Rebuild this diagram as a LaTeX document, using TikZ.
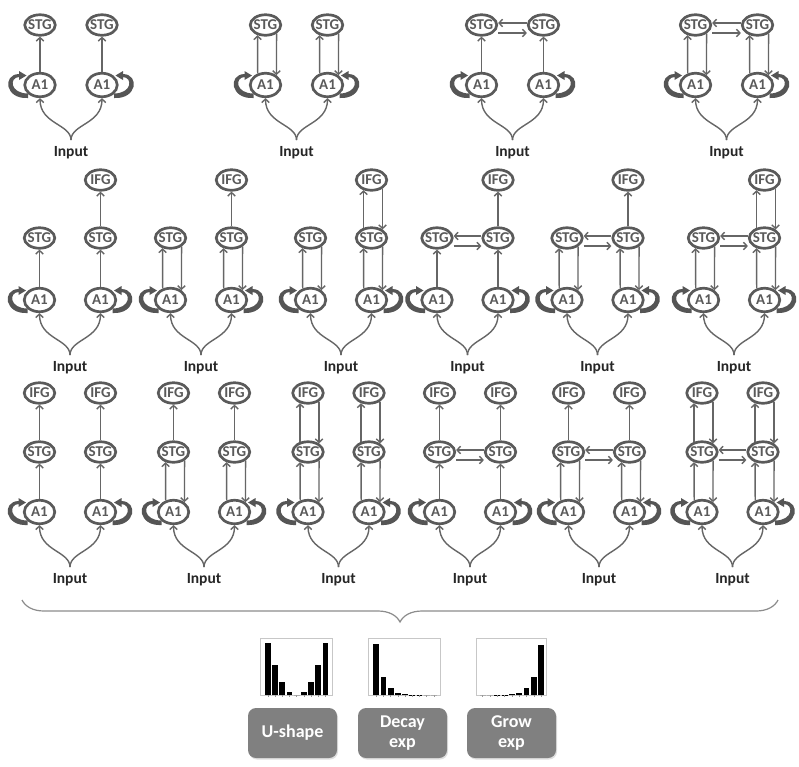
\documentclass[tikz,border=0pt]{standalone}
\usepackage{fontspec}
\setmainfont{Carlito}
\usetikzlibrary{shapes.geometric,arrows.meta,decorations.pathreplacing,shadows}
\definecolor{ng}{HTML}{5A5A5A}
\definecolor{ag}{HTML}{666666}
\definecolor{lg}{HTML}{555555}
\definecolor{bg}{HTML}{808080}
\newcommand\ndlab[1]{\makebox[18pt]{#1}}
\tikzset{
  nd/.style={ellipse, draw=ng, line width=2.7pt, minimum width=30.5pt, minimum height=20.5pt,
    inner sep=0pt, text=ng, font=\fontsize{15}{15}\selectfont\bfseries},
  aone/.style={minimum height=23.5pt},
  inp/.style={inner sep=1pt, text=black!85, font=\fontsize{15.5}{15.5}\selectfont\bfseries},
  con/.style={draw=ag, line width=1.4pt, -{Straight Barb[length=3.5pt,width=7.5pt]}},
  frame/.style={draw=black!22, line width=0.6pt},
  tick/.style={draw=black!40, line width=0.5pt},
  btn/.style={rounded corners=8pt, fill=bg, text=white, minimum width=89pt, minimum height=50pt,
    inner sep=0pt, align=center, font=\fontsize{18}{20}\selectfont\bfseries,
    drop shadow={opacity=0.25, shadow xshift=1pt, shadow yshift=-1.5pt}},
  bracestyle/.style={draw=black!45, line width=1.2pt, decorate,
    decoration={brace, mirror, amplitude=22pt}}
}
\newcommand\selfloop[2]{%
  \begin{scope}[shift={(#1.center)}, xscale=#2]
    \fill[lg] (-12,8.5) -- (-12,13) .. controls (-35,14.5) and (-38,-10.5) .. (-21,-11)
      -- (-21,-14) -- (-13.5,-9.5) -- (-21,-5) -- (-21,-8)
      .. controls (-31,-7.5) and (-30,8.5) .. (-12,8.5) -- cycle;
  \end{scope}}
% #1 name, #2 cx, #3 A-S (1 single, 2 bi), #4 S-S (0/1), #5 S-I (0/1/2), #6 IFG (0 none, 1 right, 2 both)
\newcommand\mkpanel[6]{%
  \node[nd,aone] (#1AL) at ({#2-\hw},\yA) {\ndlab{A1}};
  \node[nd,aone] (#1AR) at ({#2+\hw},\yA) {\ndlab{A1}};
  \node[nd] (#1SL) at ({#2-\hw},\yS) {\ndlab{STG}};
  \node[nd] (#1SR) at ({#2+\hw},\yS) {\ndlab{STG}};
  \ifnum#6>0 \node[nd] (#1IR) at ({#2+\hw},\yI) {\ndlab{IFG}};\fi
  \ifnum#6>1 \node[nd] (#1IL) at ({#2-\hw},\yI) {\ndlab{IFG}};\fi
  \node[inp] (#1in) at (#2,\yIn) {Input};
  \coordinate (#1m) at ([yshift=5pt]#1in.north);
  \draw[con] (#1m) .. controls +(0,-16) and +(0,26) .. (#1AL.south);
  \draw[con] (#1m) .. controls +(0,-16) and +(0,26) .. (#1AR.south);
  \selfloop{#1AL}{1}
  \selfloop{#1AR}{-1}
  \ifnum#3=1
    \draw[con] (#1AL) -- (#1SL);
    \draw[con] (#1AR) -- (#1SR);
  \else
    \draw[con] (#1AL.124) -- (#1SL.-128);
    \draw[con] (#1SL.-38) -- (#1AL.42);
    \draw[con] (#1AR.124) -- (#1SR.-128);
    \draw[con] (#1SR.-38) -- (#1AR.42);
  \fi
  \ifnum#4=1
    \draw[con] ([yshift=2pt]#1SR.west) -- ([yshift=2pt]#1SL.east);
    \draw[con] ([yshift=-8pt]#1SL.east) -- ([yshift=-8pt]#1SR.west);
  \fi
  \ifnum#5=1
    \draw[con] (#1SR) -- (#1IR);
    \ifnum#6>1 \draw[con] (#1SL) -- (#1IL);\fi
  \fi
  \ifnum#5=2
    \draw[con] (#1SR.128) -- (#1IR.-128);
    \draw[con] (#1IR.-38) -- (#1SR.38);
    \ifnum#6>1
      \draw[con] (#1SL.128) -- (#1IL.-128);
      \draw[con] (#1IL.-38) -- (#1SL.38);
    \fi
  \fi
}
\begin{document}
\begin{tikzpicture}[x=1pt,y=-1pt]
\useasboundingbox[fill=white] (0,0) rectangle (799,766);
% top row
\def\hw{31}\def\yS{25}\def\yA{85}\def\yIn{152.5}\def\yI{0}
\mkpanel{ta}{71}{1}{0}{0}{0}
\mkpanel{tb}{296.5}{2}{0}{0}{0}
\mkpanel{tc}{512.5}{1}{1}{0}{0}
\mkpanel{td}{726.5}{2}{1}{0}{0}
% middle row
\def\hw{30.5}\def\yI{180}\def\yS{238}\def\yA{300}\def\yIn{367.5}
\mkpanel{ma}{70}{1}{0}{1}{1}
\mkpanel{mb}{201}{2}{0}{1}{1}
\mkpanel{mc}{341}{2}{0}{2}{1}
\mkpanel{md}{467.5}{1}{1}{1}{1}
\mkpanel{me}{597.5}{2}{1}{1}{1}
\mkpanel{mf}{734}{2}{1}{2}{1}
% bottom row
\def\yI{393}\def\yS{452}\def\yA{512}\def\yIn{579.5}
\mkpanel{ba}{70}{1}{0}{1}{2}
\mkpanel{bb}{204}{2}{0}{1}{2}
\mkpanel{bc}{338.5}{2}{0}{2}{2}
\mkpanel{bd}{470}{1}{1}{1}{2}
\mkpanel{be}{599}{2}{1}{1}{2}
\mkpanel{bf}{732.5}{2}{1}{2}{2}
% brace
\coordinate (brL) at (22,600);
\coordinate (brR) at (778,600);
\draw[bracestyle] (brL) -- (brR);
% histograms
\draw[frame] (260,638) rectangle (332,695);
\foreach \h [count=\i from 0] in {52,30,12.7,3,0,3,12.7,30,52} {
  \fill (265+\i*7.2,695) rectangle ++(5.8,-\h);
  \draw[tick] (267.9+\i*7.2,695) -- ++(0,2);
}
\draw[frame] (368,638) rectangle (440,695);
\foreach \h [count=\i from 0] in {51,18.3,6.7,2.3,0.8,0.4,0.2,0,0} {
  \fill (373.3+\i*7.2,695) rectangle ++(5.8,-\h);
  \draw[tick] (376.2+\i*7.2,695) -- ++(0,2);
}
\draw[frame] (476,638) rectangle (546,695);
\foreach \h [count=\i from 0] in {0,0,0.2,0.4,0.8,2.3,6.7,18.3,50} {
  \fill (479.8+\i*7.3,695) rectangle ++(5.8,-\h);
  \draw[tick] (482.7+\i*7.3,695) -- ++(0,2);
}
% buttons
\node[btn] (ushape) at (292.5,733) {U-shape};
\node[btn] (decay) at (402.5,733) {Decay\\exp};
\node[btn] (grow) at (511.5,733) {Grow\\exp};
\end{tikzpicture}
\end{document}
